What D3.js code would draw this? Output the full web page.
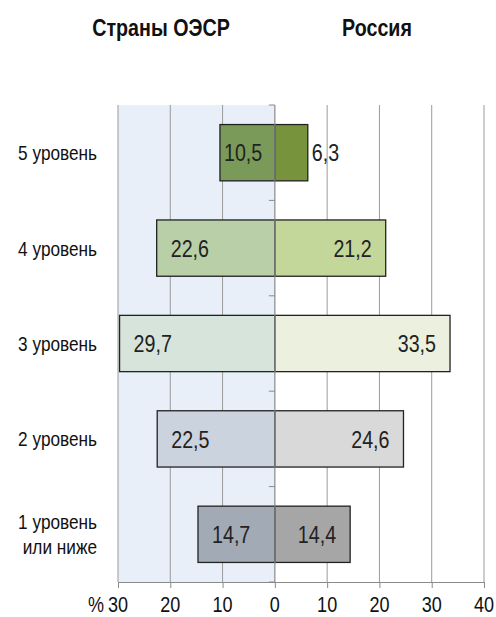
<!DOCTYPE html>
<html>
<head>
<meta charset="utf-8">
<script src="https://cdn.jsdelivr.net/npm/d3@7"></script>
<style>
  body { margin: 0; background: #fff; }
  svg { display: block; font-family: "Liberation Sans", Arial, sans-serif; }
</style>
</head>
<body>
<svg id="chart" width="496" height="617"></svg>
<script>
const levels = ['5 уровень', '4 уровень', '3 уровень', '2 уровень', '1 уровень|или ниже'];
const oecd = [10.5, 22.6, 29.7, 22.5, 14.7];
const russia = [6.3, 21.2, 33.5, 24.6, 14.4];
const oecdColors = ['#7a9a5a', '#b8cfa7', '#d7e4dc', '#cbd3de', '#a2aab5'];
const russiaColors = ['#77933c', '#c4d79b', '#ebf1de', '#d9d9d9', '#a6a6a6'];
const ticks = [-30, -20, -10, 0, 10, 20, 30, 40];
const titles = ['Страны ОЭСР', 'Россия'];

const NARROW = 0.82; // Liberation Sans squeezed to look like Arial Narrow
const svg = d3.select('#chart');
const fmt = v => v.toFixed(1).replace('.', ',');

// draws text inside a horizontally squeezed group
function narrow(parent, px, py, anchor, size, lines, weight) {
  const g = parent.append('g').attr('transform', `translate(${px},${py}) scale(${NARROW},1)`);
  const t = g.append('text')
    .attr('text-anchor', anchor).attr('font-size', size)
    .attr('font-weight', weight || 'normal').attr('fill', '#111');
  lines.forEach((p, i) => {
    t.append('tspan').attr('x', 0)
      .attr('dy', i === 0 ? (0.36 - (lines.length - 1) * 0.6) + 'em' : '1.2em')
      .text(p);
  });
  return t;
}

const x = d3.scaleLinear().domain([-30, 40]).range([118, 484]);
const y = d3.scaleBand().domain(levels).range([105, 582]).paddingInner(0.41).paddingOuter(0.205);

// shaded OECD half
svg.append('rect')
  .attr('x', x(-30)).attr('y', 105)
  .attr('width', x(0) - x(-30)).attr('height', 582 - 105)
  .attr('fill', '#e8eff9');

// grid
svg.selectAll('.grid')
  .data(ticks.filter(t => t !== 0))
  .join('line')
  .attr('x1', d => x(d)).attr('x2', d => x(d))
  .attr('y1', 105).attr('y2', 582)
  .attr('stroke', '#9a9a9a').attr('stroke-width', 1);

// bottom axis
const axis = svg.append('g')
  .attr('transform', 'translate(0,582)')
  .call(d3.axisBottom(x).tickValues(ticks).tickSize(6).tickFormat(''));
axis.select('.domain').attr('stroke', '#8a8a8a');
axis.selectAll('.tick line').attr('stroke', '#8a8a8a');
ticks.forEach(t => narrow(svg, x(t), 604, 'middle', 22, [String(Math.abs(t))]));
narrow(svg, x(-30) - 14, 604, 'end', 22, ['%']);

// bars
const rows = levels.map((l, i) => ({ l, o: oecd[i], r: russia[i], oc: oecdColors[i], rc: russiaColors[i] }));

svg.selectAll('.bar-o')
  .data(rows)
  .join('rect')
  .attr('x', d => x(-d.o)).attr('y', d => y(d.l))
  .attr('width', d => x(0) - x(-d.o)).attr('height', y.bandwidth())
  .attr('fill', d => d.oc).attr('stroke', '#222').attr('stroke-width', 1.3);

svg.selectAll('.bar-r')
  .data(rows)
  .join('rect')
  .attr('x', x(0)).attr('y', d => y(d.l))
  .attr('width', d => x(d.r) - x(0)).attr('height', y.bandwidth())
  .attr('fill', d => d.rc).attr('stroke', '#222').attr('stroke-width', 1.3);

// zero axis with small ticks at band edges
svg.append('line')
  .attr('x1', x(0)).attr('x2', x(0)).attr('y1', 105).attr('y2', 582)
  .attr('stroke', '#8a8a8a').attr('stroke-width', 1.2);
const edges = levels.map(l => y(l) - y.step() * y.paddingInner() / 2).concat([582]);
edges[0] = 105;
svg.selectAll('.ztick')
  .data(edges)
  .join('line')
  .attr('x1', x(0) - 6).attr('x2', x(0))
  .attr('y1', d => d).attr('y2', d => d)
  .attr('stroke', '#8a8a8a');

// value labels
rows.forEach(d => {
  const cy = y(d.l) + y.bandwidth() / 2;
  const wo = x(0) - x(-d.o);
  narrow(svg, x(-d.o) + (wo < 70 ? 4 : 14), cy, 'start', 24, [fmt(d.o)]).attr('fill', '#222');
  const wr = x(d.r) - x(0);
  if (wr < 50) narrow(svg, x(d.r) + 4, cy, 'start', 24, [fmt(d.r)]).attr('fill', '#222');
  else narrow(svg, x(d.r) - 14, cy, 'end', 24, [fmt(d.r)]).attr('fill', '#222');
});

// category labels
levels.forEach(d => narrow(svg, 97, y(d) + y.bandwidth() / 2, 'end', 21, d.split('|')));

// titles
titles.forEach((d, i) => narrow(svg, i === 0 ? 161 : 377, 27, 'middle', 24, [d], 'bold'));
</script>
</body>
</html>
